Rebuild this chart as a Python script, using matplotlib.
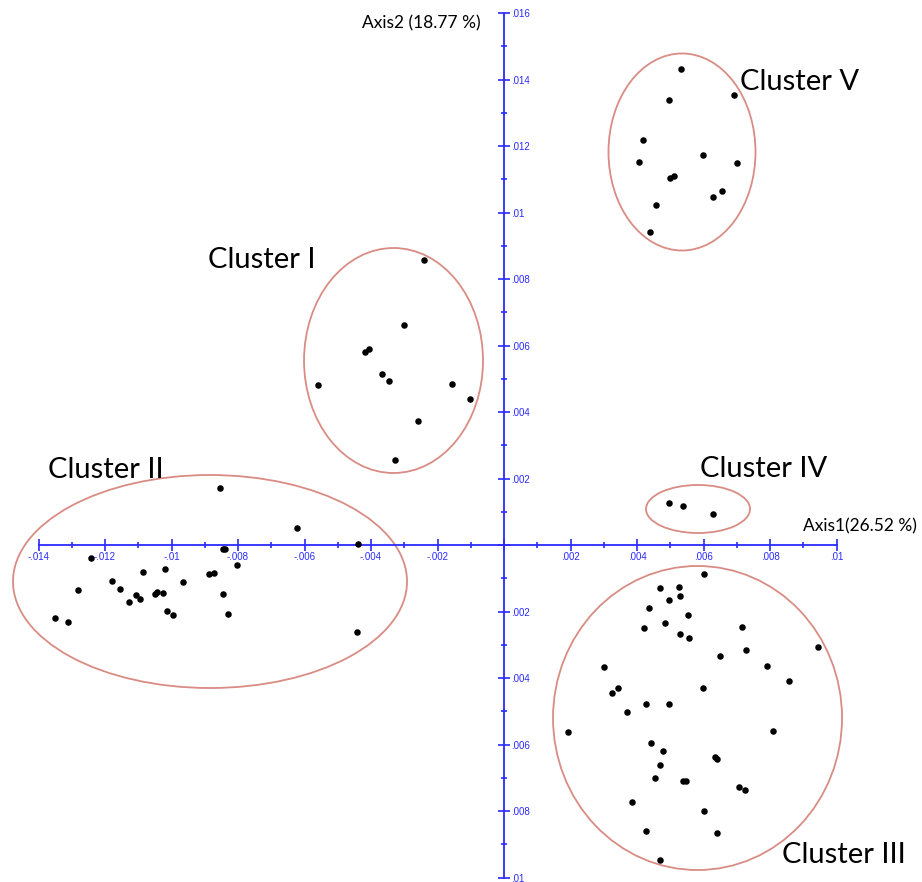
import numpy as np
import matplotlib
matplotlib.use("Agg")
import matplotlib.pyplot as plt
from matplotlib.patches import Ellipse
from matplotlib.ticker import FixedLocator, FuncFormatter

# PCoA coordinates of the samples, grouped by cluster
c1_x = [-0.002397, -0.003008, -0.004180, -0.004060, -0.003678, -0.003459,
        -0.005594, -0.001573, -0.001023, -0.002595, -0.003287]
c1_y = [0.008571, 0.006608, 0.005814, 0.005886, 0.005143, 0.004923,
        0.004821, 0.004851, 0.004400, 0.003738, 0.002556]

c2_x = [-0.008541, -0.006235, -0.004382, -0.008460, -0.008391, -0.012430,
        -0.008021, -0.010848, -0.010187, -0.008863, -0.008722, -0.011789,
        -0.009663, -0.012812, -0.011540, -0.008460, -0.010505, -0.010427,
        -0.010247, -0.011068, -0.010947, -0.011269, -0.010144, -0.009946,
        -0.008292, -0.013504, -0.013122, -0.004412]
c2_y = [0.001724, 0.000521, 0.000039, -0.000111, -0.000111, -0.000391,
        -0.000602, -0.000812, -0.000731, -0.000881, -0.000851, -0.001083,
        -0.001122, -0.001362, -0.001323, -0.001474, -0.001474, -0.001414,
        -0.001435, -0.001513, -0.001633, -0.001714, -0.001994, -0.002096,
        -0.002066, -0.002195, -0.002307, -0.002626]

c3_x = [0.006006, 0.004692, 0.005254, 0.004971, 0.005293, 0.004370,
        0.005534, 0.004833, 0.004202, 0.005284, 0.005564, 0.007158,
        0.007278, 0.009444, 0.006505, 0.003008, 0.007901, 0.008562,
        0.003420, 0.003248, 0.005976, 0.004271, 0.004971, 0.003699,
        0.001925, 0.008081, 0.004412, 0.004791, 0.006355, 0.006406,
        0.004692, 0.004541, 0.005374, 0.005483, 0.007068, 0.007248,
        0.003850, 0.006006, 0.004271, 0.006406, 0.004683]
c3_y = [-0.000872, -0.001293, -0.001254, -0.001645, -0.001543, -0.001886,
        -0.002096, -0.002337, -0.002487, -0.002686, -0.002797, -0.002475,
        -0.003149, -0.003077, -0.003329, -0.003669, -0.003639, -0.004090,
        -0.004301, -0.004451, -0.004310, -0.004791, -0.004791, -0.005014,
        -0.005633, -0.005594, -0.005946, -0.006186, -0.006367, -0.006436,
        -0.006608, -0.006998, -0.007098, -0.007098, -0.007269, -0.007368,
        -0.007729, -0.008009, -0.008611, -0.008653, -0.009483]

c4_x = [0.004971, 0.005374, 0.006295]
c4_y = [0.001272, 0.001173, 0.000923]

c5_x = [0.005314, 0.004962, 0.006917, 0.004190, 0.004060, 0.005985,
        0.006998, 0.004992, 0.005113, 0.006295, 0.006547, 0.004581, 0.004400]
c5_y = [0.014316, 0.013393, 0.013534, 0.012180, 0.011519, 0.011720,
        0.011480, 0.011029, 0.011098, 0.010466, 0.010638, 0.010226, 0.009414]

cluster_names = ["Cluster I", "Cluster II", "Cluster III", "Cluster IV", "Cluster V"]
axis1_title = "Axis1(26.52 %)"
axis2_title = "Axis2 (18.77 %)"

blue = "#2a2aff"
ring = "#d98c84"

fig = plt.figure(figsize=(9.22, 8.82), dpi=100)
ax = fig.add_axes([0, 0, 1, 1])
ax.set_xlim(-0.015158, 0.012571)
ax.set_ylim(-0.010135, 0.016391)

# axes crossing at the origin
for s in ["left", "top"]:
    ax.spines[s].set_visible(False)
ax.spines["bottom"].set_position(("data", 0))
ax.spines["right"].set_position(("data", 0))
ax.spines["bottom"].set_bounds(-0.014, 0.01)
ax.spines["right"].set_bounds(-0.01, 0.016)
for s in ["bottom", "right"]:
    ax.spines[s].set_color(blue)
    ax.spines[s].set_linewidth(1.3)
ax.xaxis.set_ticks_position("bottom")
ax.yaxis.set_ticks_position("right")

xmaj = np.round(np.arange(-0.014, 0.0101, 0.002), 4)
ymaj = np.round(np.arange(-0.010, 0.0161, 0.002), 4)
xmin = np.round(np.arange(-0.013, 0.0100, 0.002), 4)
ymin = np.round(np.arange(-0.009, 0.0160, 0.002), 4)
ax.xaxis.set_major_locator(FixedLocator(xmaj))
ax.yaxis.set_major_locator(FixedLocator(ymaj))
ax.xaxis.set_minor_locator(FixedLocator(xmin))
ax.yaxis.set_minor_locator(FixedLocator(ymin))


def fmt_x(v, pos):
    if abs(v) < 1e-9:
        return ""
    return ("%g" % round(v, 3)).replace("0.", ".")


def fmt_y(v, pos):
    if abs(v) < 1e-9:
        return ""
    return ("%g" % round(abs(v), 3)).replace("0.", ".")


ax.xaxis.set_major_formatter(FuncFormatter(fmt_x))
ax.yaxis.set_major_formatter(FuncFormatter(fmt_y))
ax.tick_params(which="major", direction="inout", length=8, width=1.2,
               color=blue, labelcolor=blue, labelsize=7, pad=1)
ax.tick_params(which="minor", direction="inout", length=4, width=1.2, color=blue)
for lab in ax.get_xticklabels() + ax.get_yticklabels():
    lab.set_family("Liberation Sans")

groups = [(c1_x, c1_y), (c2_x, c2_y), (c3_x, c3_y), (c4_x, c4_y), (c5_x, c5_y)]
for gx, gy in groups:
    ax.scatter(gx, gy, s=22, color="black", zorder=3, linewidths=0)

# cluster outlines (centre x, centre y, width, height)
rings = [(-0.003323, 0.005549, 0.005383, 0.006767),
         (-0.008842, -0.001098, 0.011850, 0.006406),
         (0.005820, -0.005203, 0.008692, 0.009143),
         (0.005835, 0.001083, 0.003128, 0.001444),
         (0.005353, 0.011820, 0.004421, 0.005925)]
for cx, cy, w, h in rings:
    ax.add_patch(Ellipse((cx, cy), w, h, fill=False, edgecolor=ring, lw=1.3, zorder=2))

label_pos = [(-0.008902, 0.008320), (-0.013722, 0.002015), (0.008372, -0.009573),
             (0.005895, 0.002045), (0.007098, 0.013684)]
for name, (lx, ly) in zip(cluster_names, label_pos):
    ax.text(lx, ly, name, fontsize=21, family="Lato", color="black",
            ha="left", va="baseline")

ax.text(0.008993, 0.000420, axis1_title, fontsize=12.5, family="Lato",
        color="black", ha="left", va="baseline")
ax.text(-0.004270, 0.015530, axis2_title, fontsize=12.5, family="Lato",
        color="black", ha="left", va="baseline")

fig.savefig("out.png", dpi=100)
